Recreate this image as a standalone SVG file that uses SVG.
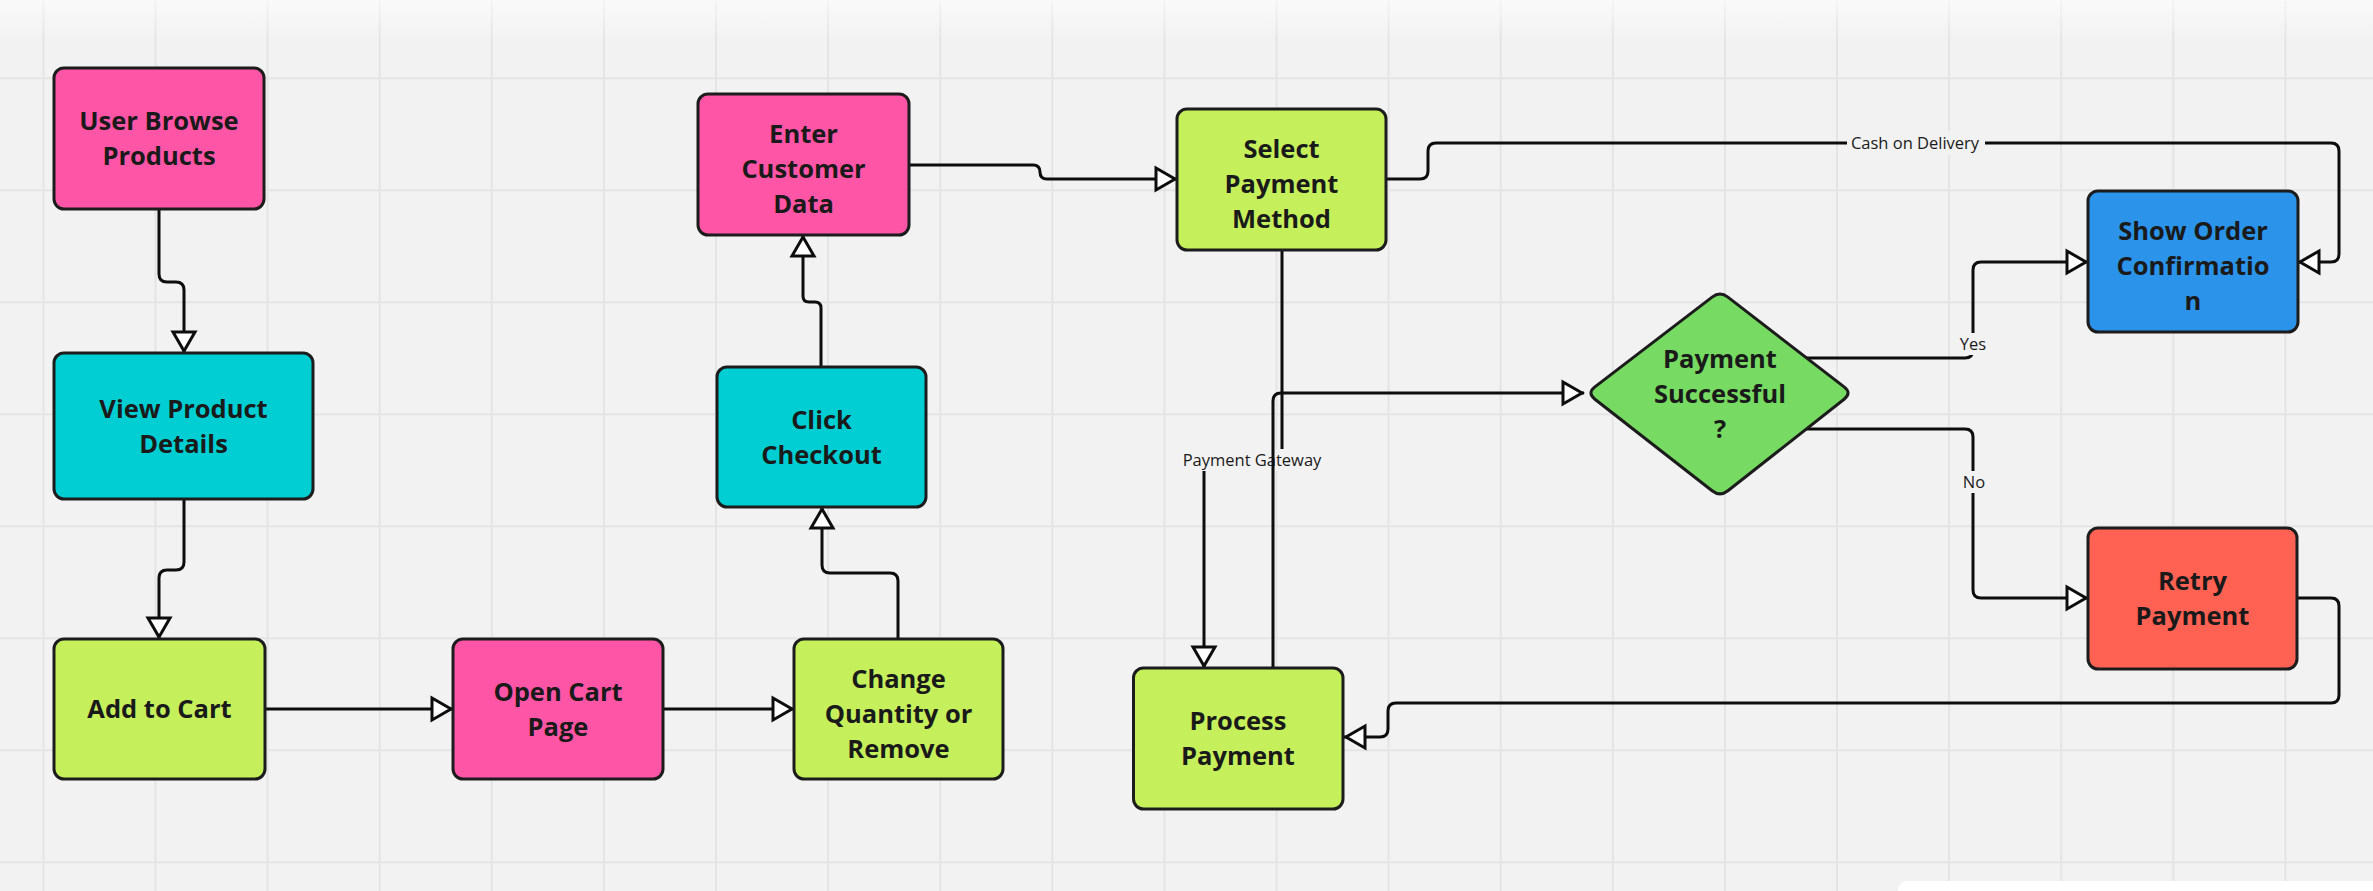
<svg xmlns="http://www.w3.org/2000/svg" width="2373" height="891" viewBox="0 0 2373 891">
<defs>
<style>
.grid line{stroke:#e4e4e4;stroke-width:2}
.box{stroke:#1c1c1c;stroke-width:3}
.pink{fill:#ff55a6}
.cyan{fill:#00ced2}
.lime{fill:#c5f05b}
.green{fill:#77da62}
.blue{fill:#2b93e9}
.red{fill:#ff6152}
.t{font-family:"Open Sans","Noto Sans",sans-serif;font-weight:700;font-size:25.5px;fill:#1a1a1a;text-anchor:middle}
.conn{fill:none;stroke:#0d0d0d;stroke-width:3}
.arr{marker-end:url(#arrow)}
.lbl{font-family:"Open Sans","Noto Sans",sans-serif;font-size:16.5px;fill:#1a1a1a;text-anchor:middle}
.lblbg{fill:#f2f2f2}
</style>
<marker id="arrow" markerUnits="userSpaceOnUse" viewBox="0 0 28 28" markerWidth="28" markerHeight="28" refX="24" refY="14" orient="auto" overflow="visible">
<path d="M3,3 L22,14 L3,25 Z" fill="#ffffff" stroke="#0d0d0d" stroke-width="3"/>
</marker>
<linearGradient id="topfade" x1="0" y1="0" x2="0" y2="1">
<stop offset="0" stop-color="#ffffff" stop-opacity="0.6"/>
<stop offset="1" stop-color="#ffffff" stop-opacity="0"/>
</linearGradient>
</defs>
<rect x="0" y="0" width="2373" height="891" fill="#f2f2f2"/>
<g class="grid">
<line x1="43.4" y1="0" x2="43.4" y2="891"/>
<line x1="155.5" y1="0" x2="155.5" y2="891"/>
<line x1="267.6" y1="0" x2="267.6" y2="891"/>
<line x1="379.7" y1="0" x2="379.7" y2="891"/>
<line x1="491.8" y1="0" x2="491.8" y2="891"/>
<line x1="603.9" y1="0" x2="603.9" y2="891"/>
<line x1="716" y1="0" x2="716" y2="891"/>
<line x1="828.1" y1="0" x2="828.1" y2="891"/>
<line x1="940.2" y1="0" x2="940.2" y2="891"/>
<line x1="1052.3" y1="0" x2="1052.3" y2="891"/>
<line x1="1164.4" y1="0" x2="1164.4" y2="891"/>
<line x1="1276.5" y1="0" x2="1276.5" y2="891"/>
<line x1="1388.6" y1="0" x2="1388.6" y2="891"/>
<line x1="1500.7" y1="0" x2="1500.7" y2="891"/>
<line x1="1612.8" y1="0" x2="1612.8" y2="891"/>
<line x1="1724.9" y1="0" x2="1724.9" y2="891"/>
<line x1="1837" y1="0" x2="1837" y2="891"/>
<line x1="1949.1" y1="0" x2="1949.1" y2="891"/>
<line x1="2061.2" y1="0" x2="2061.2" y2="891"/>
<line x1="2173.3" y1="0" x2="2173.3" y2="891"/>
<line x1="2285.4" y1="0" x2="2285.4" y2="891"/>
<line x1="0" y1="78.3" x2="2373" y2="78.3"/>
<line x1="0" y1="190.3" x2="2373" y2="190.3"/>
<line x1="0" y1="302.3" x2="2373" y2="302.3"/>
<line x1="0" y1="414.3" x2="2373" y2="414.3"/>
<line x1="0" y1="526.3" x2="2373" y2="526.3"/>
<line x1="0" y1="638.3" x2="2373" y2="638.3"/>
<line x1="0" y1="750.3" x2="2373" y2="750.3"/>
<line x1="0" y1="862.3" x2="2373" y2="862.3"/>
</g>
<rect x="0" y="0" width="2373" height="40" fill="url(#topfade)"/>
<rect x="1898" y="881" width="500" height="30" rx="9" fill="#ffffff"/>

<g id="connectors">
<path class="conn arr" d="M159,209 V274 Q159,282 167,282 H176 Q184,282 184,290 V353"/>
<path class="conn arr" d="M184,499 V562 Q184,570 176,570 H167 Q159,570 159,578 V639"/>
<path class="conn arr" d="M265,709 H453"/>
<path class="conn arr" d="M663,709 H794"/>
<path class="conn arr" d="M898,639 V581 Q898,573 890,573 H830 Q822,573 822,565 V507"/>
<path class="conn arr" d="M821,367 V308 Q821,302 815,302 H809 Q803,302 803,296 V235"/>
<path class="conn arr" d="M909,165 H1033 Q1040,165 1040,172 Q1040,179 1047,179 H1177"/>
<path class="conn arr" d="M1386,179 H1420 Q1428,179 1428,171 V151 Q1428,143 1436,143 H2331 Q2339,143 2339,151 V254 Q2339,262 2331,262 H2298"/>
<rect class="lblbg" x="1847" y="131" width="138" height="24"/>
<text class="lbl" x="1915" y="149">Cash on Delivery</text>
<path class="conn arr" d="M1282,250 V452 Q1282,460 1274,460 H1212 Q1204,460 1204,468 V668"/>
<rect class="lblbg" x="1181" y="449" width="142" height="22"/>
<text class="lbl" x="1252" y="466">Payment Gateway</text>
<path class="conn arr" d="M1273,668 V401 Q1273,393 1281,393 H1584"/>
<path class="conn arr" d="M1806,358 H1965 Q1973,358 1973,350 V270 Q1973,262 1981,262 H2088"/>
<rect class="lblbg" x="1959" y="333" width="29" height="22"/>
<text class="lbl" x="1973" y="350">Yes</text>
<path class="conn arr" d="M1806,429 H1965 Q1973,429 1973,437 V590 Q1973,598 1981,598 H2088"/>
<rect class="lblbg" x="1961" y="471" width="26" height="22"/>
<text class="lbl" x="1974" y="488">No</text>
<path class="conn arr" d="M2297,598 H2331 Q2339,598 2339,606 V695 Q2339,703 2331,703 H1396 Q1388,703 1388,711 V729 Q1388,737 1380,737 H1344"/>
</g>

<g id="node-user-browse">
<rect class="box pink" x="54" y="68" width="210" height="141" rx="10"/>
<text class="t" x="159" y="130">User Browse</text>
<text class="t" x="159" y="165">Products</text>
</g>
<g id="node-view-product">
<rect class="box cyan" x="54" y="353" width="259" height="146" rx="10"/>
<text class="t" x="183.5" y="418">View Product</text>
<text class="t" x="183.5" y="453">Details</text>
</g>
<g id="node-add-to-cart">
<rect class="box lime" x="54" y="639" width="211" height="140" rx="10"/>
<text class="t" x="159.5" y="718">Add to Cart</text>
</g>
<g id="node-open-cart">
<rect class="box pink" x="453" y="639" width="210" height="140" rx="10"/>
<text class="t" x="558" y="700.5">Open Cart</text>
<text class="t" x="558" y="735.5">Page</text>
</g>
<g id="node-change-quantity">
<rect class="box lime" x="794" y="639" width="209" height="140" rx="10"/>
<text class="t" x="898.5" y="688">Change</text>
<text class="t" x="898.5" y="723">Quantity or</text>
<text class="t" x="898.5" y="758">Remove</text>
</g>
<g id="node-click-checkout">
<rect class="box cyan" x="717" y="367" width="209" height="140" rx="10"/>
<text class="t" x="821.5" y="428.5">Click</text>
<text class="t" x="821.5" y="463.5">Checkout</text>
</g>
<g id="node-enter-customer">
<rect class="box pink" x="698" y="94" width="211" height="141" rx="10"/>
<text class="t" x="803.5" y="143">Enter</text>
<text class="t" x="803.5" y="178">Customer</text>
<text class="t" x="803.5" y="213">Data</text>
</g>
<g id="node-select-payment">
<rect class="box lime" x="1177" y="109" width="209" height="141" rx="10"/>
<text class="t" x="1281.5" y="158">Select</text>
<text class="t" x="1281.5" y="193">Payment</text>
<text class="t" x="1281.5" y="228">Method</text>
</g>
<g id="node-payment-successful">
<path class="box green" d="M1712.1,297.1 Q1720,291 1727.9,297.1 L1844.1,386.9 Q1852,393 1844.1,399.2 L1727.9,490.8 Q1720,497 1712.1,490.8 L1594.9,399.2 Q1587,393 1594.9,386.9 Z"/>
<text class="t" x="1720" y="368">Payment</text>
<text class="t" x="1720" y="403">Successful</text>
<text class="t" x="1720" y="438">?</text>
</g>
<g id="node-show-order">
<rect class="box blue" x="2088" y="191" width="210" height="141" rx="10"/>
<text class="t" x="2193" y="240">Show Order</text>
<text class="t" x="2193" y="275">Confirmatio</text>
<text class="t" x="2193" y="310">n</text>
</g>
<g id="node-retry-payment">
<rect class="box red" x="2088" y="528" width="209" height="141" rx="10"/>
<text class="t" x="2192.5" y="590">Retry</text>
<text class="t" x="2192.5" y="625">Payment</text>
</g>
<g id="node-process-payment">
<rect class="box lime" x="1133.5" y="668" width="209.5" height="141" rx="10"/>
<text class="t" x="1238" y="730">Process</text>
<text class="t" x="1238" y="765">Payment</text>
</g>
</svg>
